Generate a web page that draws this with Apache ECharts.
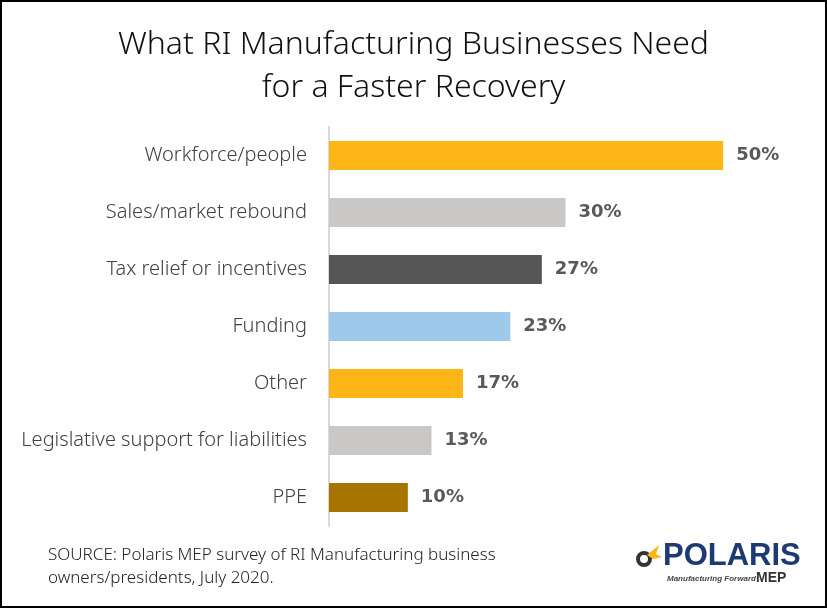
<!DOCTYPE html>
<html>
<head>
<meta charset="utf-8">
<script src="https://cdn.jsdelivr.net/npm/echarts@6/dist/echarts.min.js"></script>
<style>
  html, body { margin: 0; padding: 0; background: #fff; }
  #main { width: 823px; height: 604px; border: 2px solid #000; }
</style>
</head>
<body>
<div id="main"></div>
<script>
// 数据
const categories = ['Workforce/people', 'Sales/market rebound', 'Tax relief or incentives', 'Funding', 'Other', 'Legislative support for liabilities', 'PPE']
const values = [50, 30, 27, 23, 17, 13, 10]
const barColors = ['#FDB517', '#C9C8C6', '#555555', '#9DCAEA', '#FDB517', '#C9C8C6', '#A87400']

const thinFont = '"Noto Sans", "Open Sans", sans-serif'

let chart = echarts.init(document.getElementById('main'))
let options = {
  animation: false,
  title: {
    text: 'What RI Manufacturing Businesses Need\nfor a Faster Recovery',
    left: 'center',
    top: 16,
    textStyle: {
      fontFamily: thinFont,
      fontWeight: 300,
      fontSize: 32,
      lineHeight: 43,
      color: '#111'
    }
  },
  grid: {
    left: 327,
    top: 125,
    width: 473,
    height: 399,
    containLabel: false
  },
  xAxis: {
    type: 'value',
    min: 0,
    max: 60,
    show: false
  },
  yAxis: {
    type: 'category',
    inverse: true,
    data: categories,
    axisLine: { lineStyle: { color: '#D9D9D9', width: 2 } }, // 竖线
    axisTick: { show: false },
    axisLabel: {
      fontFamily: thinFont,
      fontWeight: 300,
      fontSize: 20,
      color: '#404040',
      margin: 22
    }
  },
  series: [
    {
      type: 'bar',
      barWidth: 29,
      data: values.map((v, i) => ({ value: v, itemStyle: { color: barColors[i] } })),
      label: {
        show: true,
        position: 'right',
        distance: 13,
        formatter: '{c}%',
        fontFamily: 'Verdana, "DejaVu Sans", sans-serif',
        fontWeight: 'bold',
        fontSize: 18,
        color: '#595959'
      }
    }
  ],
  graphic: [
    {
      type: 'text',
      left: 46,
      top: 542,
      style: {
        text: 'SOURCE: Polaris MEP survey of RI Manufacturing business\nowners/presidents, July 2020.',
        font: '300 17px ' + thinFont,
        lineHeight: 23,
        fill: '#222'
      }
    },
    // logo
    {
      type: 'text',
      left: 661,
      top: 539,
      style: {
        text: 'POLARIS',
        font: 'bold 31px "Liberation Sans", sans-serif',
        fill: '#1E3A72'
      }
    },
    {
      type: 'text',
      left: 665,
      top: 573,
      style: {
        text: 'Manufacturing Forward',
        font: 'italic bold 8px "Liberation Sans", sans-serif',
        fill: '#444'
      }
    },
    {
      type: 'text',
      left: 754,
      top: 569,
      style: {
        text: 'MEP',
        font: 'bold 14px "Liberation Sans", sans-serif',
        fill: '#333'
      }
    },
    {
      type: 'circle',
      shape: { cx: 642, cy: 557, r: 6 },
      style: { fill: '#fff', stroke: '#333', lineWidth: 4 }
    },
    {
      type: 'polygon',
      shape: { points: [[645, 553], [657, 543], [654, 552], [660, 555], [651, 557]] },
      style: { fill: '#FDB517' }
    }
  ]
}
chart.setOption(options)
</script>
</body>
</html>
